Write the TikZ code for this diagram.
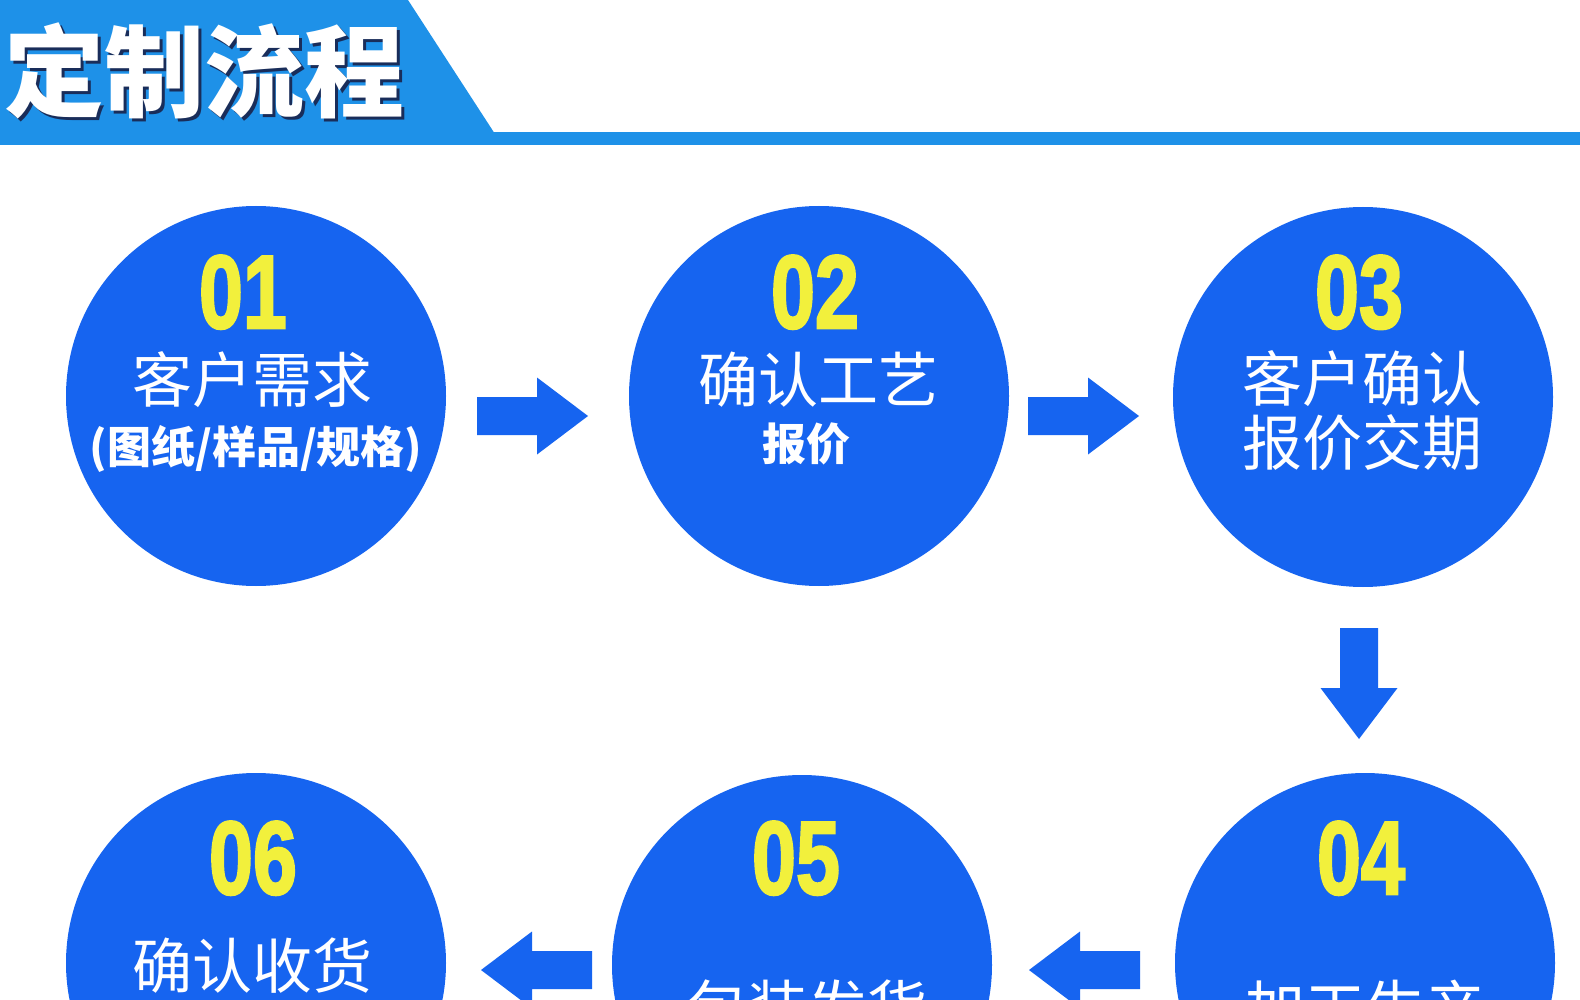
\documentclass[tikz,border=0pt]{standalone}
\usepackage{fontspec}
\newfontfamily\cjk{Noto Sans CJK SC}
\newfontfamily\numfont[BoldFeatures={FakeBold=2.5}]{Liberation Sans}
\definecolor{hdrblue}{RGB}{30,145,232}
\definecolor{flowblue}{RGB}{22,100,240}
\definecolor{numyellow}{RGB}{242,240,60}
\definecolor{shadowblue}{RGB}{25,45,90}
\newcommand\numtxt[1]{\scalebox{0.76}[1]{#1}}
\tikzset{
  stepcircle/.style={circle, fill=flowblue, minimum size=380pt, inner sep=0pt},
  stepnum/.style={text=numyellow, font=\numfont\bfseries\fontsize{104}{104}\selectfont, anchor=base, inner sep=0pt},
  mainlbl/.style={text=white, font=\cjk\fontsize{60}{66}\selectfont, anchor=base, inner sep=0pt},
  sublbl/.style={text=white, font=\cjk\bfseries\fontsize{44}{50}\selectfont, anchor=base, inner sep=0pt},
  titlelbl/.style={font=\cjk\bfseries\fontsize{100}{100}\selectfont, anchor=base, inner sep=0pt},
  blockarrow/.pic={\fill[flowblue] (0,-19) -- (60,-19) -- (60,-38.5) -- (111,0) -- (60,38.5) -- (60,19) -- (0,19) -- cycle;}
}
\begin{document}
\begin{tikzpicture}[x=1pt,y=-1pt]
\path[use as bounding box] (0,0) rectangle (1580,1000);
\clip (0,0) rectangle (1580,1000);
\fill[white] (0,0) rectangle (1580,1000);
% header
\fill[hdrblue] (0,0) -- (408,0) -- (495,134) -- (0,134) -- cycle;
\fill[hdrblue] (0,132) rectangle (1580,145);
\node[titlelbl, text=shadowblue] (titleshadow) at (208,113) {定制流程};
\node[titlelbl, text=white] (title) at (205,110) {定制流程};
% circles
\node[stepcircle] (c1) at (256,396) {};
\node[stepcircle] (c2) at (819,396) {};
\node[stepcircle] (c3) at (1363,397) {};
\node[stepcircle] (c4) at (1365,963) {};
\node[stepcircle] (c5) at (802,965) {};
\node[stepcircle] (c6) at (256,963) {};
% step 1
\node[stepnum] (n1) at (243,328) {\numtxt{01}};
\node[mainlbl] (t1) at (252,402) {客户需求};
\node[sublbl] (s1) at (256,463) {(图纸/样品/规格)};
% step 2
\node[stepnum] (n2) at (815,328) {\numtxt{02}};
\node[mainlbl] (t2) at (818,402) {确认工艺};
\node[sublbl] (s2) at (806,460) {报价};
% step 3
\node[stepnum] (n3) at (1359,328) {\numtxt{03}};
\node[mainlbl] (t3) at (1362,401) {客户确认};
\node[mainlbl] (s3) at (1362,465) {报价交期};
% step 4
\node[stepnum] (n4) at (1361,894) {\numtxt{04}};
\node[mainlbl] (t4) at (1365,1030) {加工生产};
% step 5
\node[stepnum] (n5) at (796,894) {\numtxt{05}};
\node[mainlbl] (t5) at (807,1030) {包装发货};
% step 6
\node[stepnum] (n6) at (253,894) {\numtxt{06}};
\node[mainlbl] (t6) at (252,988) {确认收货};
% arrows
\pic (a12) at (477,416) {blockarrow};
\pic (a23) at (1028,416) {blockarrow};
\pic[rotate=-90] (a34) at (1359,628) {blockarrow};
\pic[rotate=180] (a45) at (1140,970) {blockarrow};
\pic[rotate=180] (a56) at (592,970) {blockarrow};
\end{tikzpicture}
\end{document}
